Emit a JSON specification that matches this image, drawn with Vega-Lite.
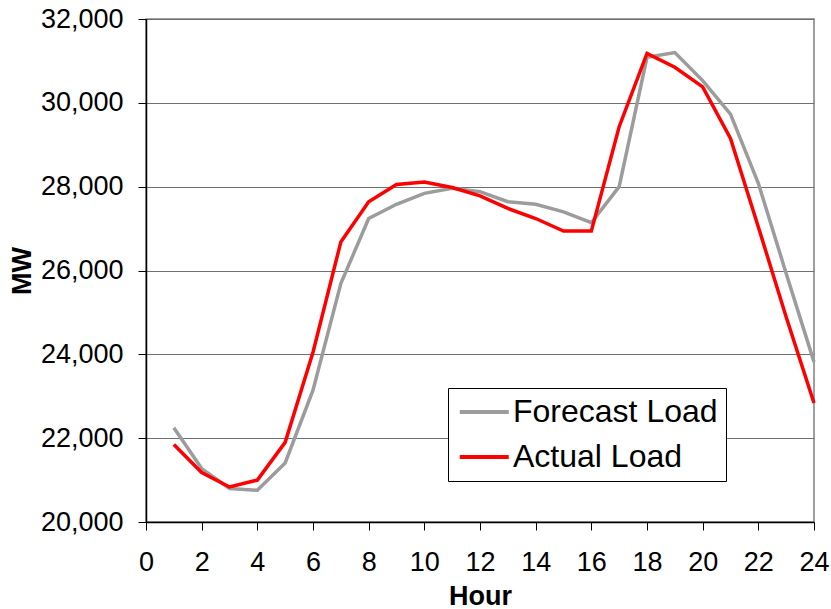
{
  "$schema": "https://vega.github.io/schema/vega-lite/v6.json",
  "width": 668,
  "height": 503,
  "autosize": {"type": "none"},
  "padding": {"left": 146, "top": 19, "right": 17, "bottom": 87},
  "background": "white",
  "config": {
    "font": "Liberation Sans",
    "view": {"stroke": "#808080", "strokeWidth": 1.5}
  },
  "data": {
    "values": [
      {"hour": 1, "series": "Forecast Load", "mw": 22250},
      {"hour": 2, "series": "Forecast Load", "mw": 21275},
      {"hour": 3, "series": "Forecast Load", "mw": 20800},
      {"hour": 4, "series": "Forecast Load", "mw": 20757},
      {"hour": 5, "series": "Forecast Load", "mw": 21410},
      {"hour": 6, "series": "Forecast Load", "mw": 23144},
      {"hour": 7, "series": "Forecast Load", "mw": 25690},
      {"hour": 8, "series": "Forecast Load", "mw": 27240},
      {"hour": 9, "series": "Forecast Load", "mw": 27580},
      {"hour": 10, "series": "Forecast Load", "mw": 27840},
      {"hour": 11, "series": "Forecast Load", "mw": 27960},
      {"hour": 12, "series": "Forecast Load", "mw": 27880},
      {"hour": 13, "series": "Forecast Load", "mw": 27640},
      {"hour": 14, "series": "Forecast Load", "mw": 27580},
      {"hour": 15, "series": "Forecast Load", "mw": 27400},
      {"hour": 16, "series": "Forecast Load", "mw": 27140},
      {"hour": 17, "series": "Forecast Load", "mw": 28000},
      {"hour": 18, "series": "Forecast Load", "mw": 31085},
      {"hour": 19, "series": "Forecast Load", "mw": 31200},
      {"hour": 20, "series": "Forecast Load", "mw": 30530},
      {"hour": 21, "series": "Forecast Load", "mw": 29730},
      {"hour": 22, "series": "Forecast Load", "mw": 28080},
      {"hour": 23, "series": "Forecast Load", "mw": 25930},
      {"hour": 24, "series": "Forecast Load", "mw": 23820},
      {"hour": 1, "series": "Actual Load", "mw": 21850},
      {"hour": 2, "series": "Actual Load", "mw": 21180},
      {"hour": 3, "series": "Actual Load", "mw": 20835},
      {"hour": 4, "series": "Actual Load", "mw": 21000},
      {"hour": 5, "series": "Actual Load", "mw": 21900},
      {"hour": 6, "series": "Actual Load", "mw": 24050},
      {"hour": 7, "series": "Actual Load", "mw": 26680},
      {"hour": 8, "series": "Actual Load", "mw": 27640},
      {"hour": 9, "series": "Actual Load", "mw": 28050},
      {"hour": 10, "series": "Actual Load", "mw": 28110},
      {"hour": 11, "series": "Actual Load", "mw": 27980},
      {"hour": 12, "series": "Actual Load", "mw": 27780},
      {"hour": 13, "series": "Actual Load", "mw": 27480},
      {"hour": 14, "series": "Actual Load", "mw": 27240},
      {"hour": 15, "series": "Actual Load", "mw": 26940},
      {"hour": 16, "series": "Actual Load", "mw": 26940},
      {"hour": 17, "series": "Actual Load", "mw": 29430},
      {"hour": 18, "series": "Actual Load", "mw": 31180},
      {"hour": 19, "series": "Actual Load", "mw": 30850},
      {"hour": 20, "series": "Actual Load", "mw": 30380},
      {"hour": 21, "series": "Actual Load", "mw": 29150},
      {"hour": 22, "series": "Actual Load", "mw": 27040},
      {"hour": 23, "series": "Actual Load", "mw": 24890},
      {"hour": 24, "series": "Actual Load", "mw": 22840}
    ]
  },
  "mark": {"type": "line", "strokeWidth": 3.5, "strokeJoin": "miter", "strokeCap": "butt"},
  "encoding": {
    "x": {
      "field": "hour",
      "type": "quantitative",
      "title": "Hour",
      "scale": {"domain": [0, 24], "nice": false, "zero": false},
      "axis": {
        "values": [0, 2, 4, 6, 8, 10, 12, 14, 16, 18, 20, 22, 24],
        "format": "d",
        "grid": false,
        "domainColor": "black",
        "domainWidth": 1.5,
        "tickColor": "black",
        "tickWidth": 1,
        "tickSize": 8,
        "labelFontSize": 27,
        "labelColor": "black",
        "labelPadding": 32,
        "labelBaseline": "middle",
        "labelFlush": false,
        "labelOverlap": false,
        "titleFontSize": 27,
        "titleFontWeight": "bold",
        "titleColor": "black",
        "titleBaseline": "alphabetic",
        "titleY": 82
      }
    },
    "y": {
      "field": "mw",
      "type": "quantitative",
      "title": "MW",
      "scale": {"domain": [20000, 32000], "nice": false, "zero": false},
      "axis": {
        "values": [20000, 22000, 24000, 26000, 28000, 30000, 32000],
        "format": ",.0f",
        "grid": true,
        "gridColor": "#707070",
        "gridWidth": 1.2,
        "domainColor": "black",
        "domainWidth": 1.5,
        "tickColor": "black",
        "tickWidth": 1,
        "tickSize": 8,
        "labelFontSize": 27,
        "labelColor": "black",
        "labelPadding": 15,
        "labelFlush": false,
        "labelOverlap": false,
        "titleFontSize": 27,
        "titleFontWeight": "bold",
        "titleColor": "black",
        "titleBaseline": "middle",
        "titleX": -124
      }
    },
    "color": {
      "field": "series",
      "type": "nominal",
      "sort": ["Forecast Load", "Actual Load"],
      "scale": {"domain": ["Forecast Load", "Actual Load"], "range": ["#9c9c9c", "#ff0000"]},
      "legend": {
        "title": null,
        "orient": "none",
        "legendX": 302,
        "legendY": 369,
        "direction": "vertical",
        "fillColor": "white",
        "strokeColor": "black",
        "padding": 8,
        "symbolType": "M-1,0L3,0",
        "symbolSize": 600,
        "symbolStrokeWidth": 4,
        "labelFontSize": 32,
        "labelColor": "black",
        "labelLimit": 400,
        "labelOffset": 25,
        "rowPadding": 13
      }
    }
  }
}
